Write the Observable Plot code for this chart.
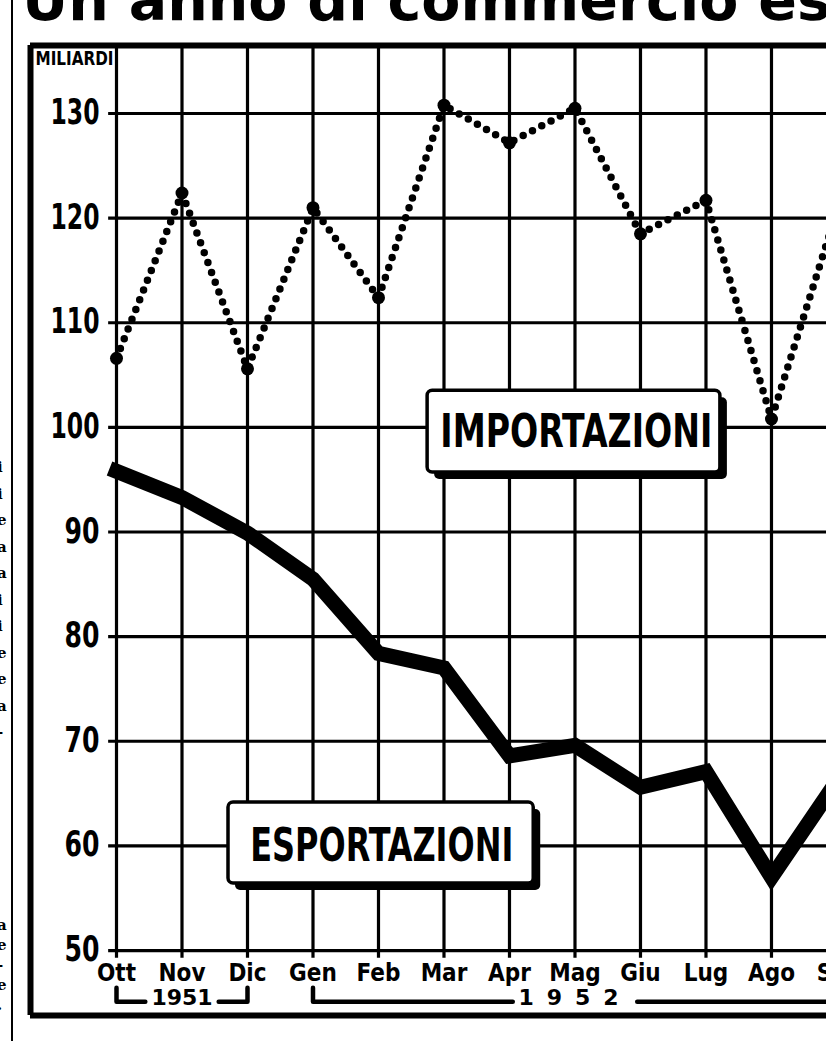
<!DOCTYPE html>
<html><head><meta charset="utf-8">
<script src="https://cdn.jsdelivr.net/npm/d3@7"></script>
<script src="https://cdn.jsdelivr.net/npm/@observablehq/plot@0.6"></script>
<style>
html,body{margin:0;padding:0;background:#fff;overflow:hidden;width:826px;height:1041px;}
#wrap{position:relative;width:826px;height:1041px;overflow:hidden;background:#fff;}
#title{position:relative;height:28px;overflow:hidden;}
#title span{position:absolute;left:22px;top:-28px;font:bold 57px/57px "DejaVu Sans";white-space:nowrap;color:#000;}
#rule{position:absolute;left:11px;top:0;width:2px;height:1041px;background:#000;}
.frag{position:absolute;left:-3px;font:bold 15px "DejaVu Serif";color:#000;line-height:15px;}
svg{display:block;max-width:none;}
</style></head><body>
<div id="wrap">
<div id="title"><span>Un anno di commercio estero</span></div>
<div id="chart"></div>
<div id="rule"></div>
</div>
<script>
// ---- data ----
const months = ["Ott","Nov","Dic","Gen","Feb","Mar","Apr","Mag","Giu","Lug","Ago","Set"];
const importazioni = [106.6, 122.4, 105.6, 121.0, 112.4, 130.8, 127.2, 130.5, 118.5, 121.7, 100.8, 120.7];
const esportazioni = [95.8, 93.3, 89.9, 85.5, 78.4, 77.0, 68.6, 69.6, 65.6, 67.1, 57.0, 66.2];
const yTicks = [50, 60, 70, 80, 90, 100, 110, 120, 130];
const yearLabels = ["1951", "1952"];
const yearFirst = ["Ott", "Gen"];
const yearLast = ["Dic", "Set"];
const unitLabel = "MILIARDI";
const seriesNames = ["IMPORTAZIONI", "ESPORTAZIONI"];
const fragTop = ["i","i","e","a","a","i","i","e","e","a","-"];
const fragBottom = ["a","e","-","e","."];

// ---- fragments of the neighbouring column ----
const wrap = document.getElementById("wrap");
fragTop.forEach((c, k) => {
  const d = document.createElement("div"); d.className = "frag";
  d.style.top = (460 + k * 26.5) + "px"; d.textContent = c; wrap.appendChild(d);
});
fragBottom.forEach((c, k) => {
  const d = document.createElement("div"); d.className = "frag";
  d.style.top = (918 + k * 20) + "px"; d.textContent = c; wrap.appendChild(d);
});

// ---- layout scales ----
const xMin = -1.313, xMax = 10.84;
const yLo = 43.79, yHi = 136.5;
const FONT = '"Liberation Sans Narrow", "DejaVu Sans Condensed", "Arial Narrow", sans-serif';

const imp = months.map((m, i) => ({i, v: importazioni[i]}));
const exp = months.map((m, i) => ({i, v: esportazioni[i]}));
const idx = months.map((m, i) => i);

const years = yearLabels.map((y, k) => {
  const s = months.indexOf(yearFirst[k]), e = months.indexOf(yearLast[k]);
  return {year: y, s, e, c: (s + e) / 2, gap: k === 0 ? 0.56 : 0.95};
});
const bTop = 46.45, bBot = 45.1;
const bracketPts = years.flatMap((g, k) => [
  {z: k + "a", x: g.s, y: bTop}, {z: k + "a", x: g.s, y: bBot}, {z: k + "a", x: g.c - g.gap, y: bBot},
  {z: k + "b", x: g.c + g.gap, y: bBot}, {z: k + "b", x: g.e, y: bBot}, {z: k + "b", x: g.e, y: bTop}
]);

const boxes = [
  {t: seriesNames[0], x1: 4.75, x2: 9.22, y1: 95.7, y2: 103.5, cx: 7.02, cy: 99.5},
  {t: seriesNames[1], x1: 1.71, x2: 6.37, y1: 56.4, y2: 64.15, cx: 4.05, cy: 60.0}
];

const chart = Plot.plot({
  width: 826, height: 1013,
  marginTop: 17, marginBottom: 26, marginLeft: 30, marginRight: 0,
  x: {type: "linear", domain: [xMin, xMax], axis: null},
  y: {type: "linear", domain: [yLo, yHi], axis: null},
  style: {background: "white", overflow: "visible"},
  marks: [
    Plot.ruleX(idx, {x: d => d, y1: 49.25, y2: yHi, stroke: "#000", strokeWidth: 3.2, clip: true}),
    Plot.ruleY(yTicks, {y: d => d, x1: -0.12, x2: xMax, stroke: "#000", strokeWidth: 3.2, clip: true}),
    Plot.line(exp, {x: "i", y: "v", stroke: "#000", strokeWidth: 15, strokeLinejoin: "miter", strokeMiterlimit: 6, strokeLinecap: "square", clip: true}),
    Plot.line(imp, {x: "i", y: "v", stroke: "#000", strokeWidth: 7.5, strokeDasharray: "0 10.5", strokeLinecap: "round", clip: true}),
    Plot.dot(imp, {x: "i", y: "v", r: 6.5, fill: "#000", clip: true}),
    Plot.rect(boxes, {x1: "x1", x2: "x2", y1: "y1", y2: "y2", fill: "#000", dx: 7, dy: 7, rx: 5}),
    Plot.rect(boxes, {x1: "x1", x2: "x2", y1: "y1", y2: "y2", fill: "#fff", stroke: "#000", strokeWidth: 3.5, rx: 5}),
    Plot.text(boxes, {x: "cx", y: "cy", text: "t", fontSize: 46, fontWeight: "bold", fontFamily: FONT, fill: "#000"}),
    Plot.text(yTicks, {y: d => d, text: d => String(d), frameAnchor: "left", dx: 69, dy: -1, textAnchor: "end", fontSize: 36, fontWeight: "bold", fontFamily: FONT, fill: "#000"}),
    Plot.text(months, {x: (d, i) => i, text: d => d, frameAnchor: "bottom", dy: -35, fontSize: 24, fontWeight: "bold", fontFamily: FONT, fill: "#000", clip: true}),
    Plot.text(years, {x: "c", text: "year", frameAnchor: "bottom", dy: -11, fontSize: 22, fontWeight: "bold", fontFamily: '"DejaVu Sans", sans-serif', fill: "#000", clip: true}),
    Plot.line(bracketPts, {x: "x", y: "y", z: "z", stroke: "#000", strokeWidth: 4.5, strokeLinejoin: "round", strokeLinecap: "round", clip: true}),
    Plot.text([unitLabel], {text: d => d, frameAnchor: "top-left", dx: 5, dy: 6, fontSize: 19, fontWeight: "bold", fontFamily: FONT, fill: "#000"}),
    Plot.ruleX([xMin], {stroke: "#000", strokeWidth: 6}),
    Plot.ruleY([yLo, yHi], {stroke: "#000", strokeWidth: 6})
  ]
});
document.getElementById("chart").appendChild(chart);

// fit widths of lettering to the hand-drawn originals
const fit = {IMPORTAZIONI: 272, ESPORTAZIONI: 263, MILIARDI: 78};
yTicks.forEach(t => fit[String(t)] = String(t).length === 3 ? 49 : 35);
chart.querySelectorAll("text").forEach(el => {
  const t = el.textContent;
  if (fit[t]) { el.setAttribute("textLength", fit[t]); el.setAttribute("lengthAdjust", "spacingAndGlyphs"); }
  if (t === "1952") el.style.letterSpacing = "13px";
});
</script>
</body></html>
